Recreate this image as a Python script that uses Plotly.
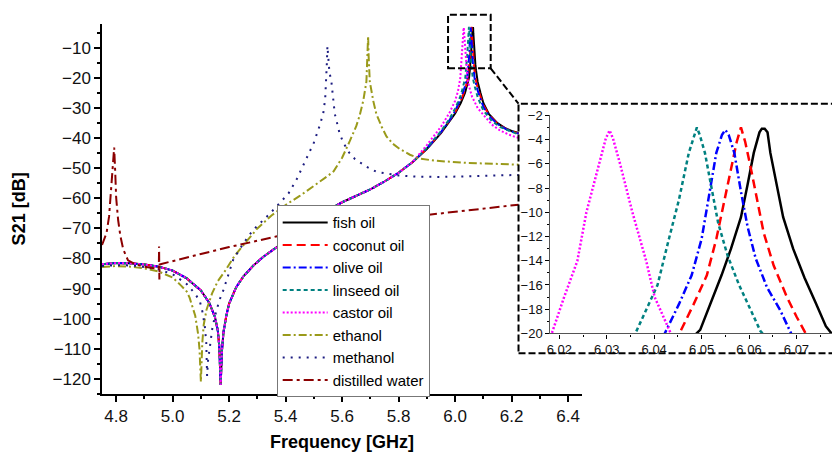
import plotly.graph_objects as go

# ---------------- data (frequency in GHz, S21 in dB) ----------------
# off-resonance part shared by the five oil curves (they overlap here)
oil_base_freq = [4.75, 4.80, 4.85, 4.90, 4.95, 5.00, 5.05, 5.10, 5.13, 5.15, 5.16, 5.165,
                 5.17, 5.175, 5.18, 5.19, 5.20, 5.225, 5.25, 5.285, 5.32, 5.36, 5.40, 5.45,
                 5.50, 5.55, 5.60, 5.65, 5.70, 5.75, 5.80, 5.85]
oil_base_s21 = [-81.9, -81.5, -81.6, -82.0, -82.7, -84.0, -86.6, -90.6, -94.8, -99.5, -104.0, -109.0,
                -122.0, -110.0, -104.5, -99.0, -95.0, -89.5, -86.0, -82.4, -79.5, -76.8, -74.3, -70.8,
                -67.3, -64.0, -61.3, -59.2, -57.0, -54.4, -51.5, -47.9]

fish_freq = [5.90, 5.95, 5.98, 6.00, 6.02, 6.035, 6.045, 6.0497, 6.0521, 6.0542, 6.0562, 6.0583,
             6.0597, 6.0610, 6.0622, 6.0627, 6.0633, 6.0639, 6.0645, 6.0659, 6.0672, 6.0693,
             6.0717, 6.0741, 6.0762, 6.080, 6.09, 6.10, 6.12, 6.15, 6.18, 6.20, 6.225]
fish_s21 = [-43.6, -38.3, -34.6, -31.8, -28.3, -25.0, -21.5, -19.7, -17.3, -15.2, -13.0, -10.4,
            -7.7, -5.1, -3.4, -3.1, -3.1, -3.4, -5.1, -7.7, -10.4, -13.0,
            -15.4, -17.5, -19.4, -21.3, -25.0, -28.3, -32.0, -35.0, -36.8, -37.6, -38.3]

coconut_freq = [5.90, 5.95, 5.98, 6.00, 6.02, 6.035, 6.0452, 6.0483, 6.0511, 6.0531, 6.0548, 6.0562,
                6.0574, 6.0583, 6.0592, 6.0604, 6.0617, 6.0631, 6.0652, 6.0680, 6.0700, 6.0721,
                6.08, 6.09, 6.10, 6.12, 6.15, 6.18, 6.20, 6.225]
coconut_s21 = [-43.5, -38.1, -34.3, -31.4, -27.6, -24.0, -20.1, -17.6, -15.2, -12.2, -9.0, -6.4,
               -4.2, -3.0, -4.2, -6.4, -9.0, -11.7, -14.4, -17.0, -18.6, -20.1,
               -23.3, -26.6, -29.0, -32.3, -35.2, -36.9, -37.7, -38.4]

olive_freq = [5.90, 5.95, 5.98, 6.00, 6.02, 6.035, 6.0421, 6.0452, 6.0479, 6.0500, 6.0514, 6.0531,
              6.0543, 6.0550, 6.0557, 6.0569, 6.0583, 6.0597, 6.0614, 6.0638, 6.0666, 6.0690,
              6.08, 6.09, 6.10, 6.12, 6.15, 6.18, 6.20, 6.225]
olive_s21 = [-43.4, -38.0, -34.1, -31.0, -26.8, -22.8, -20.1, -17.6, -15.2, -12.2, -9.0, -5.1,
             -3.6, -3.2, -3.6, -5.1, -8.3, -11.2, -13.8, -16.2, -18.1, -20.1,
             -24.2, -27.2, -29.6, -32.6, -35.3, -37.0, -37.8, -38.5]

linseed_freq = [5.90, 5.95, 5.98, 6.00, 6.02, 6.0359, 6.0379, 6.0407, 6.0431, 6.0452, 6.0473, 6.0484,
                6.0490, 6.0496, 6.0507, 6.0521, 6.0535, 6.0555, 6.0579, 6.0604, 6.0624,
                6.07, 6.08, 6.10, 6.13, 6.16, 6.20, 6.225]
linseed_s21 = [-43.2, -37.7, -33.6, -30.2, -25.8, -20.1, -18.4, -16.0, -12.2, -9.0, -5.1, -3.6,
               -3.0, -3.6, -5.1, -8.0, -10.9, -13.6, -16.0, -18.1, -19.8,
               -23.0, -26.4, -30.8, -34.3, -36.3, -38.0, -38.8]

castor_freq = [5.90, 5.95, 5.98, 6.00, 6.010, 6.0184, 6.0210, 6.0238, 6.0257, 6.0283, 6.0298,
               6.0306, 6.0313, 6.0328, 6.0354, 6.0383, 6.0401, 6.0435,
               6.05, 6.06, 6.08, 6.10, 6.13, 6.16, 6.20, 6.225]
castor_s21 = [-42.3, -36.2, -31.6, -27.6, -24.5, -20.0, -17.0, -14.0, -10.0, -6.0, -3.9,
              -3.25, -3.9, -6.0, -10.0, -14.0, -17.0, -20.0,
              -23.0, -26.2, -30.0, -32.3, -35.5, -37.5, -39.2, -39.9]

ethanol_freq = [4.75, 4.80, 4.85, 4.90, 4.95, 5.00, 5.03, 5.05, 5.06, 5.08, 5.09, 5.095, 5.10,
                5.105, 5.11, 5.12, 5.14, 5.16, 5.185, 5.22, 5.26, 5.30, 5.35, 5.40, 5.45, 5.50,
                5.55, 5.57, 5.60, 5.627, 5.65, 5.662, 5.675, 5.686, 5.690, 5.692, 5.694, 5.698,
                5.71, 5.721, 5.74, 5.757, 5.78, 5.804, 5.84, 5.875, 5.93, 5.981, 6.04, 6.099,
                6.16, 6.225]
ethanol_s21 = [-82.8, -82.5, -82.7, -83.3, -84.3, -86.3, -89.0, -91.0, -93.0, -99.0, -105.0, -110.0, -121.0,
               -108.0, -102.0, -97.0, -91.5, -87.5, -84.2, -79.0, -74.5, -70.0, -65.7, -62.2, -59.2, -56.0,
               -52.5, -51.0, -46.5, -41.0, -36.0, -32.5, -27.5, -21.2, -13.0, -6.1, -13.0, -21.2,
               -27.5, -31.9, -36.2, -39.4, -41.9, -43.6, -45.5, -46.8, -47.5, -47.9, -48.2, -48.4,
               -48.6, -48.8]

methanol_freq = [4.75, 4.80, 4.85, 4.90, 4.95, 5.00, 5.05, 5.08, 5.096, 5.105, 5.114, 5.119, 5.122,
                 5.126, 5.131, 5.14, 5.149, 5.165, 5.179, 5.214, 5.25, 5.285, 5.344, 5.38, 5.41,
                 5.44, 5.473, 5.50, 5.52, 5.533, 5.540, 5.544, 5.546, 5.548, 5.551, 5.555, 5.562,
                 5.574, 5.59, 5.604, 5.625, 5.645, 5.686, 5.722, 5.80, 5.863, 5.95, 6.04, 6.13, 6.225]
methanol_s21 = [-82.5, -82.2, -82.3, -82.8, -83.6, -85.2, -88.5, -91.8, -94.1, -97.5, -102.6, -108.0, -119.0,
                -113.0, -110.0, -103.5, -99.4, -94.0, -90.7, -80.5, -75.0, -70.5, -65.1, -61.5, -58.4,
                -53.5, -47.0, -41.5, -36.0, -31.9, -27.0, -21.2, -15.0, -9.4, -14.0, -18.0, -21.2,
                -31.9, -38.0, -41.5, -44.8, -46.9, -49.5, -51.2, -52.4, -52.8, -52.9, -52.6, -52.4, -52.2]

water_freq = [4.75, 4.766, 4.775, 4.783, 4.789, 4.793, 4.797, 4.800, 4.807, 4.815, 4.825, 4.842,
              4.87, 4.90, 4.94, 4.951, 4.952, 4.953, 4.954, 4.96, 5.00, 5.10, 5.20, 5.30, 5.366,
              5.45, 5.55, 5.65, 5.75, 5.85, 5.945, 6.05, 6.15, 6.225]
water_s21 = [-75.5, -71.5, -66.0, -57.0, -50.0, -43.1, -52.0, -59.7, -67.2, -72.5, -76.9, -80.6,
             -82.0, -82.7, -83.3, -83.4, -76.0, -87.0, -82.0, -81.8, -80.8, -78.5, -76.2, -74.0, -72.7,
             -71.3, -69.8, -68.4, -67.1, -66.0, -65.0, -63.9, -62.9, -62.1]

series_names = ["fish oil", "coconut oil", "olive oil", "linseed oil", "castor oil",
                "ethanol", "methanol", "distilled water"]

# ---------------- styles ----------------
FONT = "Arial, Liberation Sans, sans-serif"
styles = {
    "fish oil":        dict(color="#000000", dash="solid"),
    "coconut oil":     dict(color="#ff0000", dash="9px,5px"),
    "olive oil":       dict(color="#0000ff", dash="8px,3px,2px,3px"),
    "linseed oil":     dict(color="#008080", dash="4px,3px"),
    "castor oil":      dict(color="#ff00ff", dash="2px,2px"),
    "ethanol":         dict(color="#9a9a1a", dash="8px,3px,2px,3px"),
    "methanol":        dict(color="#1c1c80", dash="2px,6px"),
    "distilled water": dict(color="#8b0000", dash="10px,4px,3px,4px"),
}

curves = {
    "fish oil": (oil_base_freq + fish_freq, oil_base_s21 + fish_s21),
    "coconut oil": (oil_base_freq + coconut_freq, oil_base_s21 + coconut_s21),
    "olive oil": (oil_base_freq + olive_freq, oil_base_s21 + olive_s21),
    "linseed oil": (oil_base_freq + linseed_freq, oil_base_s21 + linseed_s21),
    "castor oil": (oil_base_freq + castor_freq, oil_base_s21 + castor_s21),
    "ethanol": (ethanol_freq, ethanol_s21),
    "methanol": (methanol_freq, methanol_s21),
    "distilled water": (water_freq, water_s21),
}
inset_series = ["fish oil", "coconut oil", "olive oil", "linseed oil", "castor oil"]

# ---------------- layout geometry ----------------
W, H = 832, 459
X_RANGE = [4.75, 6.45]
Y_RANGE = [-125, -2]
X_DOM = [98.5 / W, 581.0 / W]
Y_DOM = [1 - 400.0 / H, 1 - 17.4 / H]
X2_RANGE = [6.0181, 6.0775]
Y2_RANGE = [-20, -2]
X2_DOM = [549.0 / W, 1.0]
Y2_DOM = [1 - 337.5 / H, 1 - 112.0 / H]


def xp(v):
    return X_DOM[0] + (v - X_RANGE[0]) / (X_RANGE[1] - X_RANGE[0]) * (X_DOM[1] - X_DOM[0])


def yp(v):
    return Y_DOM[0] + (v - Y_RANGE[0]) / (Y_RANGE[1] - Y_RANGE[0]) * (Y_DOM[1] - Y_DOM[0])


fig = go.Figure()
for name in series_names:
    f, s = curves[name]
    st = styles[name]
    fig.add_trace(go.Scatter(x=f, y=s, mode="lines", name=name,
                             line=dict(color=st["color"], dash=st["dash"], width=2),
                             xaxis="x", yaxis="y"))
for name in inset_series:
    f, s = curves[name]
    st = styles[name]
    fig.add_trace(go.Scatter(x=f, y=s, mode="lines", name=name, showlegend=False,
                             line=dict(color=st["color"], dash=st["dash"], width=2.5),
                             xaxis="x2", yaxis="y2"))

axis_common = dict(showline=True, linecolor="#000000", linewidth=1.5, showgrid=False,
                   zeroline=False, ticks="outside", tickcolor="#000000", tickwidth=1.5,
                   mirror=False)

# zoom marker (in data units of the main axes) and inset frame (paper units)
zoom_box = dict(f0=5.975, f1=6.126, s0=-16.8, s1=1.0)
inset_frame = dict(x0=517.0 / W, x1=1.05, y0=1 - 358.0 / H, y1=1 - 100.0 / H)

shapes = [
    dict(type="rect", xref="paper", yref="paper",
         x0=inset_frame["x0"], x1=inset_frame["x1"], y0=inset_frame["y0"], y1=inset_frame["y1"],
         line=dict(color="#000000", width=2, dash="7px,3px"), fillcolor="rgba(0,0,0,0)", layer="above"),
    dict(type="rect", xref="paper", yref="paper",
         x0=xp(zoom_box["f0"]), x1=xp(zoom_box["f1"]), y0=yp(zoom_box["s0"]), y1=yp(zoom_box["s1"]),
         line=dict(color="#000000", width=2, dash="7px,3px"), fillcolor="rgba(0,0,0,0)", layer="above"),
    dict(type="line", xref="paper", yref="paper",
         x0=xp(zoom_box["f1"]), y0=yp(zoom_box["s0"]), x1=inset_frame["x0"], y1=inset_frame["y1"],
         line=dict(color="#000000", width=2, dash="7px,3px"), layer="above"),
]

fig.update_layout(
    width=W, height=H, autosize=False,
    margin=dict(l=0, r=0, t=0, b=0, pad=0),
    paper_bgcolor="white", plot_bgcolor="white",
    font=dict(family=FONT, size=17, color="#111111"),
    showlegend=True,
    legend=dict(x=274.0 / W, y=1 - 205.0 / H, xanchor="left", yanchor="top",
                bgcolor="white", bordercolor="#777777", borderwidth=1, itemwidth=45,
                font=dict(family=FONT, size=15, color="#000000"), tracegroupgap=0),
    xaxis=dict(axis_common, domain=X_DOM, range=X_RANGE, anchor="y",
               dtick=0.2, tick0=4.8, tickformat=".1f", ticklen=6,
               minor=dict(ticks="outside", ticklen=3, dtick=0.1, tick0=4.8, tickcolor="#000000"),
               tickfont=dict(size=17, family=FONT),
               title=dict(text="<b>Frequency [GHz]</b>", font=dict(size=18, family=FONT, color="#000000"),
                          standoff=10)),
    yaxis=dict(axis_common, domain=Y_DOM, range=Y_RANGE, anchor="x",
               dtick=10, tick0=0, ticklen=6,
               minor=dict(ticks="outside", ticklen=3, dtick=5, tick0=0, tickcolor="#000000"),
               tickfont=dict(size=17, family=FONT),
               title=dict(text="<b>S21 [dB]</b>", font=dict(size=18, family=FONT, color="#000000"),
                          standoff=22)),
    xaxis2=dict(axis_common, domain=X2_DOM, range=X2_RANGE, anchor="y2",
                dtick=0.01, tick0=6.0, tickformat=".2f", ticklen=4, linewidth=1.2, tickwidth=1.2,
                minor=dict(ticks="outside", ticklen=2, dtick=0.005, tick0=6.0, tickcolor="#000000"),
                tickfont=dict(size=13, family=FONT), linecolor="#555555"),
    yaxis2=dict(axis_common, domain=Y2_DOM, range=Y2_RANGE, anchor="x2",
                dtick=2, tick0=0, ticklen=4, linewidth=1.2, tickwidth=1.2,
                minor=dict(ticks="outside", ticklen=2, dtick=1, tick0=0, tickcolor="#000000"),
                tickfont=dict(size=13, family=FONT), linecolor="#555555"),
    shapes=shapes,
)

# remove the default page margin so the 832x459 figure fills the window exactly
fig.write_html("out.html", config={"displayModeBar": False},
               post_script="document.body.style.margin='0';document.body.style.overflow='hidden';")
